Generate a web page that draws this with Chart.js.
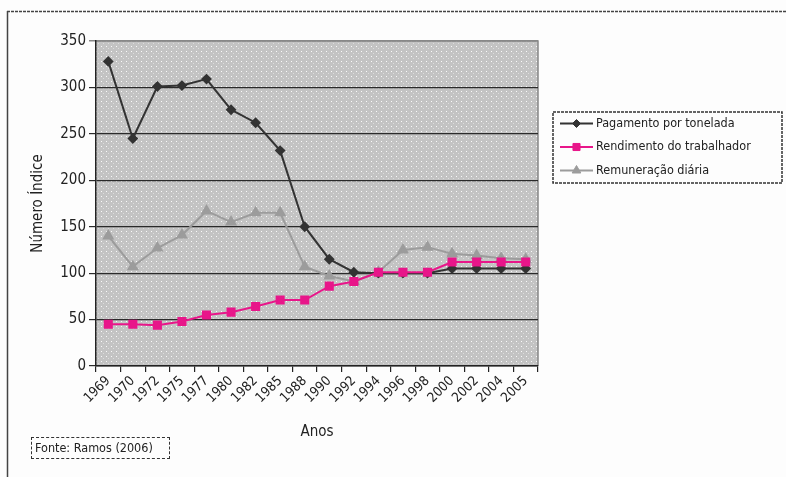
<!DOCTYPE html>
<html>
<head>
<meta charset="utf-8">
<script src="https://cdn.jsdelivr.net/npm/chart.js@4/dist/chart.umd.min.js"></script>
<style>
  html, body { margin: 0; padding: 0; background: #fdfdfd; }
  #wrap { position: relative; width: 786px; height: 477px; }
  canvas { display: block; }
  #fonte {
    position: absolute; left: 31px; top: 437px; width: 139px; height: 22px;
    border: 1.5px dashed #333; box-sizing: border-box;
    font: 12.5px "Liberation Sans Narrow", "DejaVu Sans Condensed", sans-serif;
    color: #222; line-height: 19px; padding-left: 3px; white-space: nowrap;
  }
</style>
</head>
<body>
<div id="wrap">
  <canvas id="c" width="786" height="477"></canvas>
  <div id="fonte">Fonte: Ramos (2006)</div>
</div>
<script>
// Anos (eixo x)
const anos = ['1969','1970','1972','1975','1977','1980','1982','1985','1988','1990',
              '1992','1994','1996','1998','2000','2002','2004','2005'];

// Número índice de cada série
const pagamentoTonelada = [328, 245, 301, 302, 309, 276, 262, 232, 150, 115,
                           101, 100, 100, 100, 105, 105, 105, 105];
const rendimentoTrabalhador = [45, 45, 44, 48, 55, 58, 64, 71, 71, 86,
                               91, 101, 101, 101, 112, 112, 112, 112];
const remuneracaoDiaria = [140, 107, 127, 141, 167, 155, 165, 165, 107, 97,
                           91, 101, 125, 128, 121, 119, 116, 115];

// Marcas do eixo y
const yTicks = [0, 50, 100, 150, 200, 250, 300, 350];

const FONT = '"Liberation Sans Narrow", "DejaVu Sans Condensed", sans-serif';

// Fundo pontilhado da área do gráfico
function dottedPattern(ctx) {
  const t = document.createElement('canvas');
  t.width = 5; t.height = 5;
  const g = t.getContext('2d');
  g.fillStyle = '#c3c3c3';
  g.fillRect(0, 0, 5, 5);
  g.fillStyle = '#fafafa';
  g.fillRect(1, 1, 1, 1);
  g.fillStyle = '#dcdcdc';
  g.fillRect(3, 3, 1, 1);
  return ctx.createPattern(t, 'repeat');
}

const plotBackground = {
  id: 'plotBackground',
  beforeDraw(chart) {
    const { ctx, chartArea: a } = chart;
    ctx.save();
    // moldura externa
    ctx.strokeStyle = '#444';
    ctx.lineWidth = 1.5;
    ctx.setLineDash([3, 1]);
    ctx.beginPath();
    ctx.moveTo(7, 11.5); ctx.lineTo(786, 11.5);
    ctx.stroke();
    ctx.setLineDash([]);
    ctx.beginPath();
    ctx.moveTo(7.5, 11); ctx.lineTo(7.5, 477);
    ctx.stroke();
    // fundo
    ctx.fillStyle = dottedPattern(ctx);
    ctx.fillRect(a.left, a.top, a.right - a.left, a.bottom - a.top);
    // borda superior e direita
    ctx.strokeStyle = '#888';
    ctx.lineWidth = 1.5;
    ctx.beginPath();
    ctx.moveTo(a.left, a.top); ctx.lineTo(a.right, a.top); ctx.lineTo(a.right, a.bottom);
    ctx.stroke();
    ctx.restore();
  }
};

// Legenda à direita do gráfico
const sideLegend = {
  id: 'sideLegend',
  afterDraw(chart) {
    const { ctx } = chart;
    const box = { x: 553, y: 112, w: 229, h: 71 };
    ctx.save();
    ctx.fillStyle = '#fdfdfd';
    ctx.fillRect(box.x, box.y, box.w, box.h);
    ctx.strokeStyle = '#333';
    ctx.lineWidth = 1.5;
    ctx.setLineDash([3, 1]);
    ctx.strokeRect(box.x, box.y, box.w, box.h);
    ctx.setLineDash([]);
    ctx.font = '12.5px ' + FONT;
    ctx.textBaseline = 'middle';
    chart.data.datasets.forEach((ds, i) => {
      const y = box.y + 11.5 + i * 23.5;
      ctx.strokeStyle = ds.borderColor;
      ctx.lineWidth = ds.borderWidth;
      ctx.beginPath();
      ctx.moveTo(box.x + 7, y); ctx.lineTo(box.x + 40, y);
      ctx.stroke();
      ctx.fillStyle = ds.pointBackgroundColor;
      ctx.strokeStyle = ds.pointBorderColor;
      ctx.lineWidth = 1;
      Chart.helpers.drawPoint(ctx, {
        pointStyle: ds.pointStyle, radius: ds.pointRadius, rotation: 0,
        borderWidth: 1
      }, box.x + 23.5, y);
      ctx.fillStyle = '#222';
      ctx.fillText(ds.label, box.x + 43, y);
    });
    ctx.restore();
  }
};

new Chart(document.getElementById('c'), {
  type: 'line',
  data: {
    labels: anos,
    datasets: [
      {
        label: 'Pagamento por tonelada',
        data: pagamentoTonelada,
        borderColor: '#333333', borderWidth: 2,
        pointStyle: 'rectRot', pointRadius: 4,
        pointBackgroundColor: '#333333', pointBorderColor: '#333333',
        tension: 0, order: 1
      },
      {
        label: 'Rendimento do trabalhador',
        data: rendimentoTrabalhador,
        borderColor: '#e8168a', borderWidth: 2,
        pointStyle: 'rect', pointRadius: 5,
        pointBackgroundColor: '#e8168a', pointBorderColor: '#e8168a',
        tension: 0, order: 0
      },
      {
        label: 'Remuneração diária',
        data: remuneracaoDiaria,
        borderColor: '#9c9c9c', borderWidth: 2,
        pointStyle: 'triangle', pointRadius: 5,
        pointBackgroundColor: '#9c9c9c', pointBorderColor: '#9c9c9c',
        tension: 0, order: 2
      }
    ]
  },
  options: {
    responsive: false,
    animation: false,
    devicePixelRatio: 1,
    layout: { padding: { left: 29, top: 41, right: 248, bottom: 36 } },
    plugins: { legend: { display: false }, tooltip: { enabled: false } },
    scales: {
      x: {
        offset: true,
        grid: { offset: true, drawOnChartArea: false, drawTicks: true, tickLength: 6, color: '#222', lineWidth: 1.2 },
        border: { color: '#222', width: 1.5 },
        ticks: {
          autoSkip: false, minRotation: 45, maxRotation: 45, padding: 1,
          color: '#222', font: { family: FONT, size: 13.5 }
        },
        title: {
          display: true, text: 'Anos', color: '#222',
          font: { family: FONT, size: 15 }, padding: { top: 2, bottom: 0 }
        },
        afterFit(scale) { scale.height = 75; }
      },
      y: {
        min: 0, max: 350,
        afterBuildTicks(scale) { scale.ticks = yTicks.map(v => ({ value: v })); },
        grid: {
          drawTicks: true, tickLength: 7,
          color: ctx => ctx.tick && ctx.tick.value === 350 ? '#888' : '#2a2a2a',
          lineWidth: ctx => ctx.tick && ctx.tick.value === 350 ? 1.5 : 1.2
        },
        border: { color: '#222', width: 1.5 },
        ticks: { color: '#222', padding: 3, font: { family: FONT, size: 15 } },
        title: {
          display: true, text: 'Número Índice', color: '#222',
          font: { family: FONT, size: 15 }, padding: { top: 0, bottom: 2 }
        },
        afterFit(scale) { scale.width = 67; }
      }
    }
  },
  plugins: [plotBackground, sideLegend]
});
</script>
</body>
</html>
